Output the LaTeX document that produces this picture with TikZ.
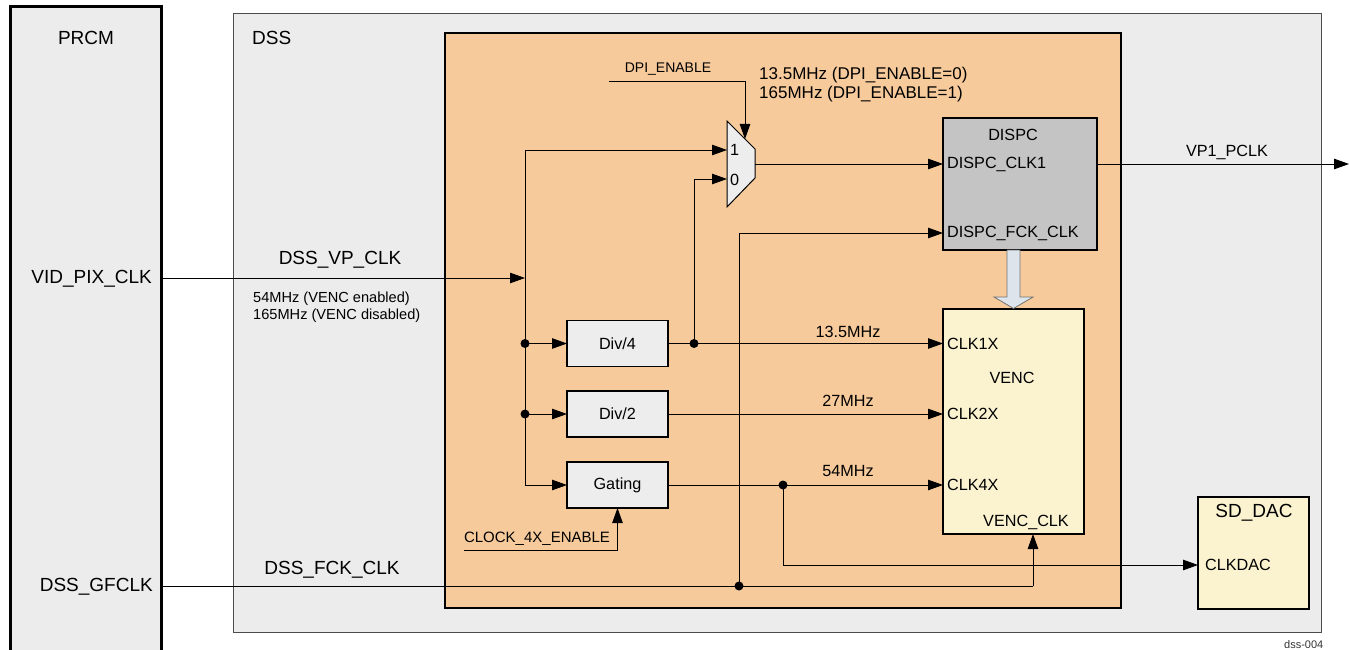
\documentclass[tikz,border=0pt]{standalone}
\usepackage{fontspec}
\setmainfont{Liberation Sans}
\usetikzlibrary{arrows.meta,positioning}

\definecolor{dssgray}{HTML}{ECECEC}
\definecolor{coreorange}{HTML}{F7CA9B}
\definecolor{dispcgray}{HTML}{C4C4C4}
\definecolor{vencyellow}{HTML}{FBF3D0}
\definecolor{blockgray}{HTML}{EDEDED}
\definecolor{busblue}{HTML}{DDE4EC}

\newcommand{\fbig}{\fontsize{19}{22}\selectfont}
\newcommand{\fmid}{\fontsize{16.2}{19}\selectfont}
\newcommand{\fsmall}{\fontsize{14.6}{17}\selectfont}

\tikzset{
  wire/.style={line width=0.9pt},
  sig/.style={wire,-{Triangle[length=15pt,width=10.5pt]}},
  jdot/.style={circle,fill,inner sep=0pt,minimum size=9pt},
  area/.style={anchor=north west,inner sep=0pt,outer sep=0pt},
  blk/.style={draw,line width=1.2pt,fill=blockgray,inner sep=0pt,outer sep=0pt,
    minimum width=101pt,minimum height=46pt,font=\fmid},
  lbl/.style={inner sep=0pt,font=\fmid},
}

\begin{document}
\begin{tikzpicture}[x=1pt,y=-1pt]
  \useasboundingbox (0,0) rectangle (1349,650);
  % draw the outer blocks
  \node[area,draw,line width=3pt,fill=dssgray,minimum width=151pt,minimum height=660pt] (prcm) at (10,7) {};
  \node[area,draw=black!70,line width=1pt,fill=dssgray,minimum width=1088pt,minimum height=618pt] (dss) at (233,14) {};
  \node[area,draw,line width=2.5pt,fill=coreorange,minimum width=676pt,minimum height=575pt] (core) at (445,33) {};
  \node[area,draw,line width=1.2pt,fill=dispcgray,minimum width=154pt,minimum height=132pt] (dispc) at (943,118) {};
  \node[area,draw,line width=1.2pt,fill=vencyellow,minimum width=141pt,minimum height=225pt] (venc) at (943,309) {};
  \node[area,draw,line width=2.5pt,fill=vencyellow,minimum width=111pt,minimum height=112pt] (sddac) at (1198,497) {};
  % draw the divider and gating blocks
  \node[blk] (div4) at (617.5,343.5) {Div/4};
  \node[blk] (div2) at (617.5,414) {Div/2};
  \node[blk] (gate) at (617.5,485) {Gating};
  % draw the multiplexer
  \draw[line width=1pt,fill=blockgray] (727,121) -- (755,149) -- (755,178) -- (727,207) -- cycle;
  \coordinate (mux1) at (727,150);
  \coordinate (mux0) at (727,179);
  \coordinate (muxout) at (755,164);
  \coordinate (muxsel) at (745,139);
  \node[lbl,anchor=west] (mux1lbl) at (730,150) {1};
  \node[lbl,anchor=west] (mux0lbl) at (730,180) {0};
  % draw the block arrow from DISPC to VENC
  \draw[fill=busblue,draw=black!55,line width=0.8pt] (1007,250) -- (1020,250) -- (1020,297)
    -- (1033,297) -- (1013.5,308.5) -- (994,297) -- (1007,297) -- cycle;
%
  % block labels
  \node[lbl,font=\fbig] (prcmlbl) at (86,38) {PRCM};
  \node[lbl,font=\fbig,anchor=west] (dsslbl) at (252,38) {DSS};
  \node[lbl] (dispclbl) at (1013,135) {DISPC};
  \node[lbl,anchor=west] (clk1lbl) at (947,164) {DISPC\_CLK1};
  \node[lbl,anchor=west] (fcklbl) at (947,233) {DISPC\_FCK\_CLK};
  \node[lbl] (venclbl) at (1012,378) {VENC};
  \node[lbl,anchor=west] (c1xlbl) at (947,343.5) {CLK1X};
  \node[lbl,anchor=west] (c2xlbl) at (947,414) {CLK2X};
  \node[lbl,anchor=west] (c4xlbl) at (947,485) {CLK4X};
  \node[lbl] (vclklbl) at (1026,522) {VENC\_CLK};
  \node[lbl,font=\fbig] (daclbl) at (1254,513) {SD\_DAC};
  \node[lbl,anchor=west] (clkdaclbl) at (1205,565) {CLKDAC};
%
  % clock inputs from PRCM
  \coordinate (busT) at (525,150);
  \coordinate (busV) at (525,278);
  \coordinate (bus4) at (525,343.5);
  \coordinate (bus2) at (525,414);
  \coordinate (busG) at (525,485);
  \node[lbl,font=\fbig,anchor=east] (pixlbl) at (152,279) {VID\_PIX\_CLK};
  \draw[sig] (prcm.east |- busV) -- (busV) node[midway,above=9pt,font=\fbig,inner sep=0pt,xshift=-3pt] {DSS\_VP\_CLK};
  \node[inner sep=0pt,font=\fsmall,anchor=west,align=left] (vpfreq) at (253,307) {54MHz (VENC enabled)\\165MHz (VENC disabled)};
  \draw[wire] (busT) -- (busG);
  \draw[sig] (busT) -- (mux1);
  \draw[sig] (bus4) -- (div4.west);
  \draw[sig] (bus2) -- (div2.west);
  \draw[sig] (busG) -- (gate.west);
  \node[jdot] (dotb4) at (bus4) {};
  \node[jdot] (dotb2) at (bus2) {};
%
  % mux select and output
  \coordinate (dpistart) at (609,81);
  \draw[sig] (dpistart) -| (muxsel);
  \node[inner sep=0pt,font=\fontsize{14}{16}\selectfont] (dpilbl) at (668,69) {DPI\_ENABLE};
  \node[inner sep=0pt,font=\fontsize{17}{19}\selectfont,anchor=west,align=left] (muxfreq) at (759,84.5)
    {13.5MHz (DPI\_ENABLE=0)\\165MHz (DPI\_ENABLE=1)};
  \draw[sig] (muxout) -- (muxout -| dispc.west);
  \coordinate (vpout) at (1349,164);
  \draw[sig] (dispc.east |- muxout) -- (vpout);
  \node[lbl] (vp1lbl) at (1227,152) {VP1\_PCLK};
%
  % divider outputs to VENC
  \coordinate (d4dot) at (694,343.5);
  \draw[sig] (div4.east) -- (venc.west |- div4.east);
  \draw[sig] (d4dot) |- (mux0);
  \node[jdot] (dotd4) at (d4dot) {};
  \node[lbl] (f135) at (848,332) {13.5MHz};
  \draw[sig] (div2.east) -- (venc.west |- div2.east);
  \node[lbl] (f27) at (848,401) {27MHz};
  \coordinate (g54) at (783,485);
  \coordinate (dacin) at (1198,565);
  \draw[sig] (gate.east) -- (venc.west |- gate.east);
  \draw[sig] (g54) |- (dacin);
  \node[jdot] (dotg) at (g54) {};
  \node[lbl] (f54) at (848,471) {54MHz};
  % gating enable
  \coordinate (c4start) at (464,550);
  \draw[sig] (c4start) -| (gate.south);
  \node[inner sep=0pt,font=\fontsize{15}{17}\selectfont] (c4lbl) at (537,539) {CLOCK\_4X\_ENABLE};
%
  % functional clock
  \coordinate (fckdot) at (739,586);
  \coordinate (vencclk) at (1033,586);
  \coordinate (fckin) at (943,233);
  \node[lbl,font=\fbig,anchor=east] (gflbl) at (153,587) {DSS\_GFCLK};
  \node[lbl,font=\fbig] (fckbuslbl) at (332,570) {DSS\_FCK\_CLK};
  \draw[wire] (prcm.east |- fckdot) -- (vencclk);
  \draw[sig] (vencclk) -- (vencclk |- venc.south);
  \draw[sig] (fckdot) |- (fckin);
  \node[jdot] (dotf) at (fckdot) {};
%
  \node[inner sep=0pt,font=\fontsize{11}{13}\selectfont,anchor=base west,text=black!80] (fignum) at (1284,648) {dss-004};
\end{tikzpicture}
\end{document}
